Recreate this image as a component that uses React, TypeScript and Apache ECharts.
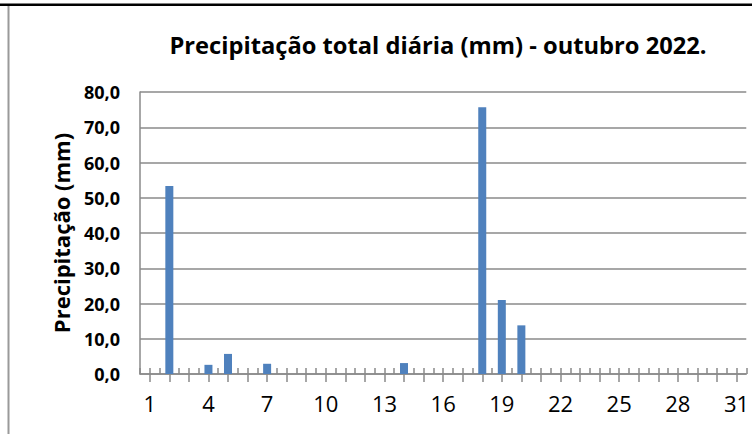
import React, { useEffect, useRef } from "react";
import * as echarts from "echarts";

const days: string[] = [
  "1","2","3","4","5","6","7","8","9","10","11","12","13","14","15","16",
  "17","18","19","20","21","22","23","24","25","26","27","28","29","30","31",
];
const precipitation: number[] = [
  0, 53.3, 0, 2.6, 5.7, 0, 2.9, 0, 0, 0, 0, 0, 0, 3.1, 0, 0,
  0, 75.7, 21.0, 13.8, 0, 0, 0, 0, 0, 0, 0, 0, 0, 0, 0,
];
const yTicks: number[] = [0, 10, 20, 30, 40, 50, 60, 70, 80];
const titleText = "Precipitação total diária (mm) - outubro 2022.";
const yAxisName = "Precipitação (mm)";

const FONT = "'Open Sans', Lato, sans-serif";

export default function App() {
  const ref = useRef<HTMLDivElement>(null);
  useEffect(() => {
    if (!ref.current) return;
    const chart = echarts.init(ref.current, null, { renderer: "svg" });
    const gray = "#8a8a8a";
    chart.setOption({
      animation: false,
      backgroundColor: "#ffffff",
      graphic: [
        { type: "rect", shape: { x: 0, y: 3.5, width: 752, height: 2.5 }, style: { fill: "#000" } },
        { type: "line", shape: { x1: 8.5, y1: 6, x2: 8.5, y2: 434 }, style: { stroke: "#9a9a9a", lineWidth: 2 } },
        {
          type: "text",
          x: 438,
          y: 45,
          style: {
            text: titleText,
            fontFamily: FONT,
            fontWeight: "bold",
            fontSize: 23.7,
            fill: "#000",
            textAlign: "center",
            textVerticalAlign: "middle",
          },
        },
      ],
      grid: { left: 140, top: 92, right: 1, height: 282, containLabel: false },
      xAxis: [
        {
          type: "category",
          position: "bottom",
          data: days,
          boundaryGap: true,
          axisLine: { show: true, lineStyle: { color: gray, width: 1.5 } },
          axisTick: { show: true, inside: true, length: 6, interval: 0, lineStyle: { color: gray, width: 1.5 } },
          axisLabel: {
            interval: 2,
            fontFamily: FONT,
            fontSize: 22,
            color: "#000",
            margin: 18,
          },
          splitLine: { show: false },
        },
        {
          type: "category",
          position: "bottom",
          data: days,
          boundaryGap: true,
          axisLine: { show: false },
          axisTick: { show: true, alignWithLabel: true, inside: false, length: 8, interval: 0, lineStyle: { color: gray, width: 1.5 } },
          axisLabel: { show: false },
        },
        {
          type: "category",
          position: "bottom",
          data: days,
          boundaryGap: true,
          axisLine: { show: false },
          axisTick: { show: true, alignWithLabel: true, inside: true, length: 6, interval: 0, lineStyle: { color: gray, width: 1.5 } },
          axisLabel: { show: false },
        },
      ],
      yAxis: {
        type: "value",
        min: yTicks[0],
        max: yTicks[yTicks.length - 1],
        interval: 10,
        name: yAxisName,
        nameLocation: "middle",
        nameRotate: 90,
        nameGap: 68,
        nameTextStyle: { fontFamily: FONT, fontWeight: "bold", fontSize: 22, color: "#000" },
        axisLine: { show: true, lineStyle: { color: gray, width: 1.5 } },
        axisTick: { show: false },
        axisLabel: {
          fontFamily: FONT,
          fontWeight: "bold",
          fontSize: 18,
          color: "#000",
          margin: 20,
          formatter: (v: number) => v.toFixed(1).replace(".", ","),
        },
        splitLine: { show: true, lineStyle: { color: gray, width: 1.5 } },
      },
      series: [
        {
          type: "bar",
          xAxisIndex: 0,
          data: precipitation,
          barWidth: 8,
          itemStyle: { color: "#4f81bd" },
        },
      ],
    });
    return () => chart.dispose();
  }, []);
  return (
    <div
      ref={ref}
      style={{ position: "fixed", left: 0, top: 0, width: 752, height: 434 }}
    />
  );
}
